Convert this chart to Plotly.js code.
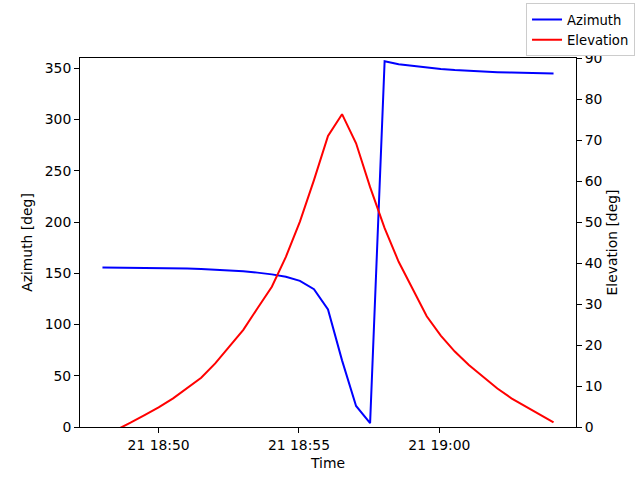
<!DOCTYPE html>
<html>
<head>
<meta charset="utf-8">
<script src="https://cdn.plot.ly/plotly-3.0.1.min.js"></script>
<style>
  html, body { margin: 0; padding: 0; background: #fff; }
  #plotDiv { width: 640px; height: 480px; }
</style>
</head>
<body>
<div id="plotDiv"></div>
<script>
// pass samples, roughly every 30 s
const times = [
	'2024-01-21 18:48:00', '2024-01-21 18:48:30', '2024-01-21 18:49:00', '2024-01-21 18:49:30',
	'2024-01-21 18:50:00', '2024-01-21 18:50:31', '2024-01-21 18:51:01', '2024-01-21 18:51:31',
	'2024-01-21 18:52:01', '2024-01-21 18:52:31', '2024-01-21 18:53:01', '2024-01-21 18:53:31',
	'2024-01-21 18:54:02', '2024-01-21 18:54:32', '2024-01-21 18:55:02', '2024-01-21 18:55:32',
	'2024-01-21 18:56:02', '2024-01-21 18:56:32', '2024-01-21 18:57:02', '2024-01-21 18:57:32',
	'2024-01-21 18:58:03', '2024-01-21 18:58:33', '2024-01-21 18:59:03', '2024-01-21 18:59:33',
	'2024-01-21 19:00:03', '2024-01-21 19:00:33', '2024-01-21 19:01:03', '2024-01-21 19:01:33',
	'2024-01-21 19:02:04', '2024-01-21 19:02:34', '2024-01-21 19:03:04', '2024-01-21 19:03:34',
	'2024-01-21 19:04:04'
]

const azimuth = [
	155.7, 155.6, 155.5, 155.3, 155.1, 154.9, 154.6, 154.2,
	153.6, 152.8, 152.0, 150.6, 148.9, 146.5, 142.6, 134.5,
	114.7, 65.0, 20.5, 3.8, 356.8, 354.0, 352.2, 350.6,
	349.2, 348.2, 347.4, 346.7, 346.2, 345.8, 345.5, 345.2,
	345.0
]

const elevation = [
	-2.4, -0.75, 1.05, 2.9, 4.8, 7.0, 9.4, 12.0,
	15.5, 19.6, 23.7, 28.9, 34.2, 41.5, 50.1, 60.2,
	71.0, 76.3, 69.2, 58.5, 48.5, 40.3, 33.6, 27.0,
	22.3, 18.4, 15.1, 12.3, 9.4, 7.0, 5.0, 3.0,
	1.1
]

const xTicks = ['2024-01-21 18:50:00', '2024-01-21 18:55:00', '2024-01-21 19:00:00']
const xTickText = ['21 18:50', '21 18:55', '21 19:00']
const azTicks = [0, 50, 100, 150, 200, 250, 300, 350]
const elTicks = [0, 10, 20, 30, 40, 50, 60, 70, 80, 90]

const font = {family: 'DejaVu Sans', size: 13.9, color: '#000'}

const traceAz = {
	name: 'Azimuth',
	x: times,
	y: azimuth,
	type: 'scatter',
	mode: 'lines',
	line: {color: '#0000ff', width: 2}
}
const traceEl = {
	name: 'Elevation',
	x: times,
	y: elevation,
	yaxis: 'y2',
	type: 'scatter',
	mode: 'lines',
	line: {color: '#ff0000', width: 2}
}

const axisCommon = {
	showgrid: false,
	zeroline: false,
	showline: true,
	linecolor: '#000',
	linewidth: 1,
	ticks: 'outside',
	ticklen: 5,
	tickwidth: 1,
	tickcolor: '#000',
	tickfont: font,
	automargin: false
}

const layout = {
	width: 640,
	height: 480,
	font: font,
	paper_bgcolor: '#fff',
	plot_bgcolor: '#fff',
	margin: {l: 80, r: 64, t: 58, b: 53, autoexpand: false},
	showlegend: true,
	xaxis: {
		...axisCommon,
		type: 'date',
		range: ['2024-01-21 18:47:12', '2024-01-21 19:04:52'],
		tickvals: xTicks,
		ticktext: xTickText,
		mirror: true,
		title: {text: 'Time', font: font, standoff: 6}
	},
	yaxis: {
		...axisCommon,
		range: [0, 360],
		tickvals: azTicks,
		title: {text: 'Azimuth [deg]', font: font, standoff: 8}
	},
	yaxis2: {
		...axisCommon,
		overlaying: 'y',
		side: 'right',
		range: [0, 90],
		tickvals: elTicks,
		title: {text: 'Elevation [deg]', font: font, standoff: 5}
	},
	legend: {
		x: 1.119,
		y: 1.148,
		xanchor: 'right',
		yanchor: 'top',
		bgcolor: '#fff',
		bordercolor: '#cccccc',
		borderwidth: 1,
		font: {...font, size: 13.2},
		itemwidth: 30,
		tracegroupgap: 0
	}
}

Plotly.newPlot('plotDiv', [traceAz, traceEl], layout, {displayModeBar: false, staticPlot: true})
</script>
</body>
</html>
